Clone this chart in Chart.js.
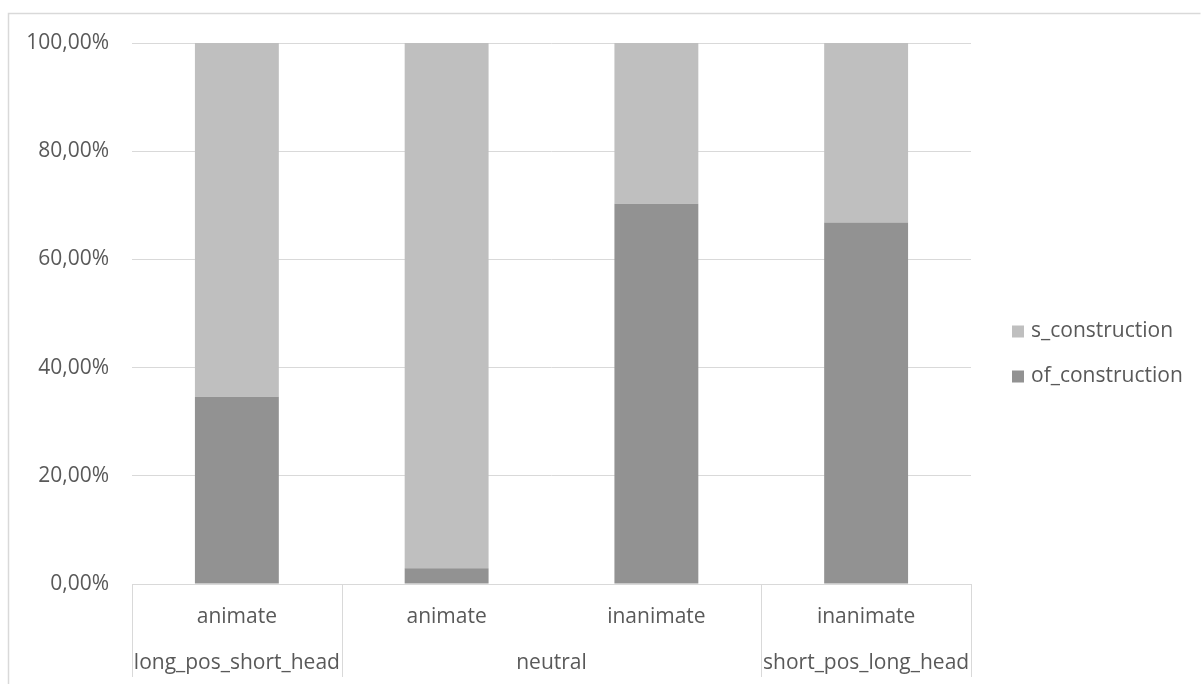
<!DOCTYPE html>
<html>
<head>
<meta charset="utf-8">
<script src="https://cdn.jsdelivr.net/npm/chart.js@4/dist/chart.umd.min.js"></script>
<style>
  html, body { margin: 0; padding: 0; background: #ffffff; }
  #wrap { width: 1201px; height: 684px; position: relative; }
</style>
</head>
<body>
<div id="wrap"><canvas id="c" width="1201" height="684"></canvas></div>
<script>
// ---- data ----
const categories = ['animate', 'animate', 'inanimate', 'inanimate'];
const groupLabels = ['long_pos_short_head', 'neutral', 'short_pos_long_head'];
const groupSpans = [1, 2, 1];
const seriesNames = ['of_construction', 's_construction'];
const ofConstruction = [34.6, 2.9, 70.3, 66.8];
const sConstruction = [65.4, 97.1, 29.7, 33.2];
const yTickValues = [0, 20, 40, 60, 80, 100];

// ---- styles ----
const FONT = '"Open Sans", "DejaVu Sans", sans-serif';
const FONT_SIZE = 21;
const TEXT = '#595959';
const GRID = '#d9d9d9';
const COL_OF = '#929292';
const COL_S = '#bfbfbf';

const pct = v => v.toFixed(2).replace('.', ',') + '%';

const framePlugin = {
  id: 'frame',
  beforeDraw(chart) {
    const ctx = chart.ctx;
    ctx.save();
    ctx.fillStyle = '#ffffff';
    ctx.fillRect(0, 0, chart.width, chart.height);
    ctx.strokeStyle = GRID;
    ctx.lineWidth = 1.5;
    ctx.beginPath();
    ctx.moveTo(8.5, chart.height + 5);
    ctx.lineTo(8.5, 13.5);
    ctx.lineTo(chart.width - 0.5, 13.5);
    ctx.stroke();
    ctx.restore();
  }
};

const groupAxisPlugin = {
  id: 'groupAxis',
  afterDraw(chart) {
    const ctx = chart.ctx;
    const xs = chart.scales.x;
    const area = chart.chartArea;
    const half = (xs.getPixelForValue(1) - xs.getPixelForValue(0)) / 2;
    ctx.save();
    ctx.strokeStyle = GRID;
    ctx.lineWidth = 1;
    ctx.fillStyle = TEXT;
    ctx.font = FONT_SIZE + 'px ' + FONT;
    ctx.textAlign = 'center';
    ctx.textBaseline = 'middle';
    let idx = 0;
    const bounds = [];
    groupLabels.forEach((g, gi) => {
      const left = xs.getPixelForValue(idx) - half;
      const right = xs.getPixelForValue(idx + groupSpans[gi] - 1) + half;
      bounds.push(left, right);
      ctx.fillText(g, (left + right) / 2, area.bottom + 79);
      idx += groupSpans[gi];
    });
    const uniq = [...new Set(bounds.map(b => Math.round(b)))];
    uniq.forEach(b => {
      ctx.beginPath();
      ctx.moveTo(b + 0.5, area.bottom);
      ctx.lineTo(b + 0.5, area.bottom + 93);
      ctx.stroke();
    });
    // legend (drawn from dataset colours, top item = last dataset)
    const items = chart.data.datasets.slice().reverse();
    items.forEach((ds, i) => {
      const cy = 331.5 + i * 45;
      ctx.fillStyle = ds.backgroundColor;
      ctx.fillRect(1012, cy - 6, 12, 12);
      ctx.fillStyle = TEXT;
      ctx.textAlign = 'left';
      ctx.fillText(ds.label, 1031, cy);
    });
    ctx.restore();
  }
};

new Chart(document.getElementById('c'), {
  type: 'bar',
  data: {
    labels: categories,
    datasets: [
      { label: seriesNames[0], data: ofConstruction, backgroundColor: COL_OF },
      { label: seriesNames[1], data: sConstruction, backgroundColor: COL_S }
    ]
  },
  options: {
    responsive: false,
    animation: false,
    devicePixelRatio: 1,
    layout: { padding: { left: 0, top: 43, right: 230, bottom: 0 } },
    datasets: { bar: { barPercentage: 0.4, categoryPercentage: 1.0, borderWidth: 0 } },
    plugins: { legend: { display: false }, tooltip: { enabled: false } },
    scales: {
      x: {
        stacked: true,
        grid: { display: false, drawTicks: false },
        border: { display: true, color: GRID, width: 1 },
        ticks: { color: TEXT, font: { family: FONT, size: FONT_SIZE }, padding: 20, maxRotation: 0 },
        afterFit(scale) { scale.height = 100; }
      },
      y: {
        stacked: true,
        min: 0,
        max: 100,
        afterBuildTicks(scale) { scale.ticks = yTickValues.map(v => ({ value: v })); },
        grid: { color: GRID, lineWidth: 1, drawTicks: false },
        border: { display: false },
        ticks: {
          color: TEXT,
          font: { family: FONT, size: FONT_SIZE },
          padding: 23,
          callback: v => pct(v)
        },
        afterFit(scale) { scale.width = 132; }
      }
    }
  },
  plugins: [framePlugin, groupAxisPlugin]
});
</script>
</body>
</html>
